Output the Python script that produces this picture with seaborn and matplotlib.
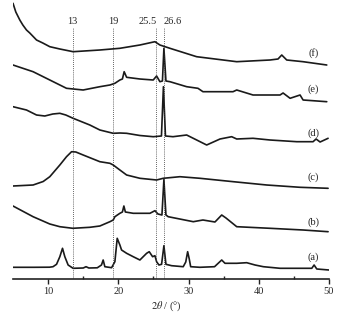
import numpy as np
import matplotlib
matplotlib.use("Agg")
import matplotlib.pyplot as plt
import seaborn as sns
from matplotlib.ticker import MultipleLocator

# XRD patterns (2theta in degrees, intensity in arbitrary units)
a_x = [5.0, 8.0, 10.2, 10.7, 11.2, 11.67, 12.05, 12.38, 12.85, 13.56, 15.0, 15.4, 15.8, 17.0, 17.6,
       17.84, 18.08, 19.04, 19.51, 19.84, 20.22, 20.46, 21.18, 22.12, 23.07, 24.03, 24.40, 24.88,
       25.21, 25.45, 25.78, 26.16, 26.49, 26.78, 27.59, 29.24, 29.6, 29.87, 30.1, 30.3, 31.6, 33.7,
       34.72, 35.19, 36.86, 38.28, 39.47, 40.65, 43.03, 47.55, 47.88, 48.26, 50.0]
a_y = [11.7, 11.7, 11.8, 12.3, 14.7, 22.3, 30.7, 22.3, 14.0, 10.7, 11.0, 12.3, 11.0, 11.2, 14.0,
       19.0, 12.3, 11.3, 17.3, 40.7, 34.0, 29.0, 25.7, 22.3, 19.0, 25.7, 27.3, 22.3,
       23.3, 17.3, 14.0, 14.7, 33.3, 14.7, 13.3, 12.3, 17.0, 27.3, 20.0, 12.3, 11.7, 12.3,
       19.0, 15.7, 15.7, 16.3, 14.0, 12.3, 10.7, 10.7, 14.0, 10.0, 9.0]

b_x = [5.0, 7.86, 10.24, 11.67, 13.52, 15.94, 17.37, 18.80, 19.27, 19.51, 20.22, 20.58, 20.79,
       21.0, 22.12, 24.50, 25.21, 25.64, 26.21, 26.49, 26.78, 27.1, 30.67, 32.05, 33.76, 34.72,
       35.33, 36.86, 41.60, 46.31, 49.87]
b_y = [73.0, 62.3, 55.0, 52.3, 50.7, 51.7, 53.0, 57.3, 59.0, 62.3, 65.7, 67.0, 73.0,
       67.0, 65.7, 65.7, 68.3, 65.0, 64.0, 99.5, 64.0, 62.3, 57.3, 59.0, 57.0, 64.0,
       61.0, 52.3, 50.7, 49.0, 47.3]

c_x = [5.0, 7.86, 9.3, 10.24, 11.67, 12.62, 13.34, 13.95, 14.99, 17.37, 18.80, 19.27, 20.22,
       21.18, 23.07, 25.45, 26.39, 28.77, 31.63, 36.38, 41.13, 45.88, 49.87]
c_y = [93.0, 94.0, 97.5, 102.3, 114.0, 122.3, 127.3, 127.0, 124.0, 117.3, 115.7, 114.0, 109.0,
       104.0, 100.7, 99.0, 100.7, 102.3, 100.7, 97.3, 94.0, 91.7, 90.7]

d_x = [5.0, 6.92, 8.35, 9.53, 10.67, 11.67, 12.52, 13.56, 15.94, 17.37, 19.27, 20.22, 21.18,
       23.07, 24.97, 26.14, 26.42, 26.71, 27.78, 29.73, 32.58, 34.48, 36.14, 36.86, 39.18,
       41.60, 45.41, 47.73, 48.16, 48.73, 49.87]
d_y = [172.3, 169.0, 164.0, 163.0, 165.0, 165.7, 164.0, 160.7, 154.0, 149.0, 145.7, 146.0, 145.7,
       143.5, 142.3, 143.0, 192.3, 143.0, 142.3, 144.0, 134.0, 140.0, 142.3, 140.0, 140.7,
       139.0, 137.3, 137.3, 140.0, 137.0, 140.7]

e_x = [5.0, 7.86, 10.24, 12.62, 14.99, 17.37, 18.80, 19.51, 20.22, 20.58, 20.83, 21.18, 23.07,
       24.97, 25.45, 25.92, 26.28, 26.49, 26.78, 27.35, 29.73, 31.34, 32.05, 36.33, 36.86,
       39.18, 43.03, 43.46, 44.46, 45.88, 46.31, 49.68]
e_y = [214.0, 207.3, 199.0, 190.7, 189.0, 192.3, 194.0, 195.7, 199.0, 200.0, 207.3, 201.7, 200.0,
       199.0, 203.0, 197.3, 198.0, 230.7, 198.0, 197.3, 192.3, 190.7, 187.3, 187.3, 189.0,
       184.0, 184.0, 186.0, 180.7, 184.0, 179.0, 177.3]

f_x = [5.0, 5.4, 5.97, 6.4, 6.92, 7.39, 8.35, 9.24, 10.24, 11.67, 13.56, 17.37, 20.22, 23.07,
       25.21, 25.92, 27.35, 31.15, 36.86, 41.60, 42.74, 43.27, 43.98, 46.31, 49.68]
f_y = [275.7, 267.0, 259.0, 254.0, 249.0, 246.0, 239.0, 236.0, 232.3, 230.0, 227.3, 229.0, 230.7, 234.0,
       237.3, 234.0, 230.7, 222.3, 217.3, 219.0, 220.0, 224.0, 219.0, 217.3, 214.0]

curve_names = ["(a)", "(b)", "(c)", "(d)", "(e)", "(f)"]
label_y = [21.7, 57.3, 102.3, 146.0, 190.0, 226.0]

ref_lines = [13.5, 19.3, 25.4, 26.45]
ref_labels = ["13", "19", "25.5", "26.6"]

sns.set_style("ticks")
plt.rcParams['font.family'] = ['Liberation Serif', 'DejaVu Serif']
plt.rcParams['mathtext.fontset'] = 'stix'

fig = plt.figure(figsize=(3.41, 3.13), dpi=100)
ax = fig.add_axes([13 / 341, 34 / 313, 316 / 341, 279 / 313])

curves = [(a_x, a_y), (b_x, b_y), (c_x, c_y), (d_x, d_y), (e_x, e_y), (f_x, f_y)]
for (xs, ys), name, ly in zip(curves, curve_names, label_y):
    sns.lineplot(x=xs, y=ys, ax=ax, color='#1a1a1a', linewidth=1.2, estimator=None)
    ax.text(47.8, ly, name, fontsize=7.5, ha='center', va='center', color='#222222')

for xv, lab in zip(ref_lines, ref_labels):
    ax.plot([xv, xv], [0, 251], ls=(0, (1, 1.5)), color='#333333', linewidth=0.6)
ax.text(ref_lines[0], 257, ref_labels[0], fontsize=7.5, ha='center', va='center')
ax.text(ref_lines[1], 257, ref_labels[1], fontsize=7.5, ha='center', va='center')
ax.text(ref_lines[2] + 0.1, 257, ref_labels[2], fontsize=7.5, ha='right', va='center')
ax.text(ref_lines[3] - 0.05, 257, ref_labels[3], fontsize=7.5, ha='left', va='center')

ax.set_xlim(5, 50)
ax.set_ylim(0, 279)
ax.xaxis.set_major_locator(MultipleLocator(10))
ax.set_xticks([15, 25, 35, 45], minor=True)
ax.tick_params(axis='x', which='major', direction='out', length=3.5, width=1.0,
               labelsize=7.5, pad=2.5, color='#222222')
ax.tick_params(axis='x', which='minor', direction='in', length=2.5, width=1.0, color='#222222')
ax.set_yticks([])
for side in ['left', 'right', 'top']:
    ax.spines[side].set_visible(False)
ax.spines['bottom'].set_linewidth(1.2)
ax.spines['bottom'].set_color('#222222')
ax.set_xlabel(r"$2\theta$ / (°)", fontsize=7.5, labelpad=2)
ax.xaxis.set_label_coords((166 - 13) / 316, -0.072)
ax.patch.set_alpha(0)

fig.savefig("out.png", dpi=100)
